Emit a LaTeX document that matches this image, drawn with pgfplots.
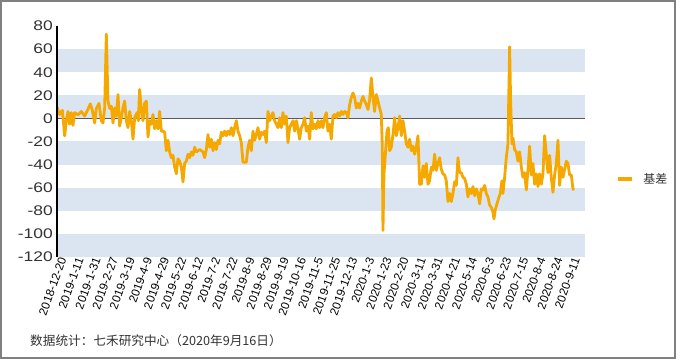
\documentclass[border=0pt]{standalone}
\usepackage{pgfplots}
\pgfplotsset{compat=1.18}
\usepackage{pgfplotstable}
\usepackage{fontspec}
\setmainfont{Liberation Sans}
\newfontfamily\cjk{Noto Sans CJK SC}
\newfontfamily\yfont[FakeStretch=1.25]{Liberation Sans}
\definecolor{lineorange}{RGB}{245,168,0}
\definecolor{band}{RGB}{219,229,241}
\definecolor{zeroc}{RGB}{89,89,89}
\definecolor{framec}{RGB}{128,128,128}
\definecolor{labc}{RGB}{51,51,51}

\pgfplotstableread{
zx v
22 9.7
30 3.4
38 7
45 -15
50 -2
55 6
60 -5
65 5
70 -6
75 5
85 3
95 6
105 2
115 8
122 12.6
128 7
135 -4
140 8.6
148 13
155 -2
160 -4
165 9
170 73
175 15
180 8.6
185 10.6
190 -4
195 9
200 2
205 20.6
210 -6.6
215 0.6
220 9
225 15
230 -2
235 -8
240 6
245 -2
250 -18
255 0.6
262 5
266 -2
270 25
275 7.7
280 -2
285 13
290 15
295 -16
300 -2
305 -5
310 3.4
315 -9
320 -2
325 -9
330 6
335 -11
340 -11
345 -12
350 -28
355 -19
360 -29
365 -34
370 -32
375 -42
380 -48
385 -35
390 -37
395 -42
400 -55
405 -39
410 -37
415 -31
420 -34
425 -29
430 -32
435 -25
440 -29
450 -27
460 -29
465 -34
470 -27
475 -14
480 -25
485 -18
490 -28
495 -21
500 -27
505 -19
510 -22
515 -12
520 -15
525 -11
530 -15
535 -11
540 -14
545 -8
550 -15
555 -8
560 -2
565 -11
570 -15
575 -21
580 -38
585 -38
590 -38
595 -25
600 -19
605 -28
610 -11
615 -19
620 -14
625 -8
630 -18
635 -12
640 -14
645 -11
650 -21
655 6
660 -2
665 2
670 5
675 -2
680 -5
685 -8
690 0.6
695 -8
700 5
705 -5
710 2
715 -21
720 -8
725 -5
730 -2
735 -11
740 -2
745 -9
750 -18
755 -8
760 -5
765 0.6
770 -11
775 -6.6
780 -18
785 5
790 -9
795 -5
800 -9
805 -2
810 -8
815 -2
820 -8
825 0.6
830 5
835 -11
840 -5
845 -18
850 2
855 3.4
860 0.6
865 5
870 2
875 6
880 3.4
885 6
890 5
895 0.6
900 12
905 18
910 22
915 18
920 9
925 13
930 9
935 15
940 19
945 15
950 12
955 7.7
960 16
965 35
970 19
975 6
980 20.6
985 15
990 9
995 3.4
998 -25
1000 -97
1003 -48
1008 -28
1012 -11
1016 -8
1020 -28
1025 -25
1030 -14
1035 0.6
1040 -15
1045 -8
1050 2
1055 -15
1060 -2
1065 -11
1070 -22
1075 -25
1080 -18
1085 -28
1090 -24
1095 -31
1100 -25
1105 -15
1110 -57
1115 -57
1120 -41
1125 -51
1130 -39
1135 -57
1140 -54
1145 -42
1150 -45
1155 -31
1160 -45
1165 -39
1170 -34
1175 -44
1180 -48
1185 -49
1190 -54
1195 -72
1200 -65
1205 -72
1210 -65
1215 -55
1220 -58
1225 -34
1230 -47
1235 -47
1240 -51
1245 -52
1250 -57
1255 -68
1260 -61
1265 -65
1270 -59
1275 -67
1280 -61
1285 -65
1290 -74
1295 -61
1300 -62
1305 -58
1310 -65
1315 -68
1320 -75
1325 -77
1330 -81
1333 -87
1337 -79
1342 -74
1347 -69
1352 -65
1357 -54
1360 -65
1365 -51
1370 -34
1375 -22
1380 62
1383 15
1387 -22
1390 -17
1395 -27
1400 -29
1405 -37
1410 -29
1415 -42
1420 -51
1425 -47
1430 -62
1435 -45
1440 -24
1445 -49
1450 -39
1455 -57
1460 -48
1465 -59
1470 -48
1475 -57
1480 -48
1485 -15
1490 -31
1495 -47
1500 -32
1505 -51
1510 -64
1515 -49
1520 -39
1525 -19
1530 -58
1535 -42
1540 -51
1545 -44
1550 -37
1555 -39
1560 -49
1565 -49
1570 -61
1573 -62
}\basis

\begin{document}
\begin{tikzpicture}
\useasboundingbox (0,0) rectangle (676bp,359bp);
\fill[white] (0,0) rectangle (676bp,359bp);
\draw[line width=2bp, framec] (1bp,1bp) rectangle (675bp,358bp);
\begin{axis}[
  at={(57bp,102bp)}, anchor=south west,
  scale only axis, width=528bp, height=231bp,
  xmin=0, xmax=432, ymin=-120, ymax=80,
  axis on top,
  axis lines*=left,
  x axis line style={draw=none},
  y axis line style={black, line width=2bp},
  major tick length=0pt,
  ytick={-120,-100,-80,-60,-40,-20,0,20,40,60,80},
  yticklabels={-120,-100,-80,-60,-40,-20,0,20,40,60,80},
  yticklabel style={font=\yfont\fontsize{14}{14}\selectfont, text=labc, inner sep=0pt, xshift=-4bp},
  xtick={0,14,...,420},
  xticklabels={2018-12-20,2019-1-11,2019-1-31,2019-2-27,2019-3-19,2019-4-9,2019-4-29,2019-5-22,2019-6-12,2019-7-2,2019-7-22,2019-8-9,2019-8-29,2019-9-19,2019-10-16,2019-11-5,2019-11-25,2019-12-13,2020-1-3,2020-1-23,2020-2-20,2020-3-11,2020-3-31,2020-4-21,2020-5-14,2020-6-3,2020-6-23,2020-7-15,2020-8-4,2020-8-24,2020-9-11},
  xticklabel style={rotate=70, anchor=east, inner sep=0pt, font=\fontsize{11.8}{11.8}\selectfont, text=black, yshift=-6bp, xshift=1bp},
  legend style={at={(1.0587,0.338)}, anchor=west, draw=none, fill=none, inner sep=0pt, nodes={inner sep=0pt}, column sep=10bp, font=\cjk\fontsize{12}{12}\selectfont, text=labc},
  legend image code/.code={\draw[#1, line width=3.2bp] (0bp,0bp) -- (14bp,0bp);},
]
\fill[band] (axis cs:0,40) rectangle (axis cs:432,60);
\fill[band] (axis cs:0,0) rectangle (axis cs:432,20);
\fill[band] (axis cs:0,-40) rectangle (axis cs:432,-20);
\fill[band] (axis cs:0,-80) rectangle (axis cs:432,-60);
\fill[band] (axis cs:0,-120) rectangle (axis cs:432,-100);
\draw[zeroc, line width=1.5bp] (axis cs:0,0) -- (axis cs:432,0);
\addplot[lineorange, line width=2.8bp, line join=round, no marks] table[x expr={(\thisrow{zx}-22)/3.667}, y=v] {\basis};
\addlegendentry{基差}
\end{axis}
\node[anchor=west, font=\cjk\fontsize{12.7}{12.7}\selectfont, text=labc, inner sep=0pt] at (30bp,18bp) {数据统计：七禾研究中心（2020年9月16日）};
\end{tikzpicture}
\end{document}
